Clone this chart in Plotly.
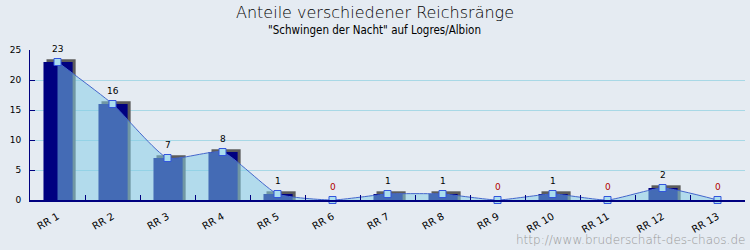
import plotly.graph_objects as go

categories = ["RR 1", "RR 2", "RR 3", "RR 4", "RR 5", "RR 6", "RR 7",
              "RR 8", "RR 9", "RR 10", "RR 11", "RR 12", "RR 13"]
values = [23, 16, 7, 8, 1, 0, 1, 1, 0, 1, 0, 2, 0]
y_ticks = [0, 5, 10, 15, 20, 25]

title = "Anteile verschiedener Reichsränge"
subtitle = '"Schwingen der Nacht" auf Logres/Albion'
watermark = "http://www.bruderschaft-des-chaos.de"

BG = "#e5ebf2"
NAVY = "#000080"
BAR_W = 0.53
BAR_OFF = -0.255

fig = go.Figure()

# shadow bars
fig.add_trace(go.Bar(
    x=categories, y=[v + 0.45 if v > 0 else 0 for v in values],
    width=BAR_W, offset=BAR_OFF + 0.055,
    marker=dict(color="#5c5c5c", line=dict(width=0)),
    hoverinfo="skip", showlegend=False,
))
# main bars
fig.add_trace(go.Bar(
    x=categories, y=values,
    width=BAR_W, offset=BAR_OFF,
    marker=dict(color=NAVY, line=dict(width=0)),
    showlegend=False,
))
# area overlay
fig.add_trace(go.Scatter(
    x=categories, y=values, mode="lines",
    line=dict(color="rgba(68,102,204,1)", width=1, shape="spline", smoothing=0.5),
    fill="tozeroy", fillcolor="rgba(130,205,230,0.52)",
    hoverinfo="skip", showlegend=False,
))
# markers
fig.add_trace(go.Scatter(
    x=categories, y=values, mode="markers",
    marker=dict(symbol="square", size=7, color="#aaddee",
                line=dict(color="#3355dd", width=1)),
    cliponaxis=False, showlegend=False,
))

for c, v in zip(categories, values):
    fig.add_annotation(
        x=c, y=v, xref="x", yref="y", text=str(v), showarrow=False,
        yshift=13, font=dict(family="DejaVu Sans", size=9,
                             color="#b00000" if v == 0 else "#000000"),
    )

fig.add_annotation(x=0.5, y=1, xref="paper", yref="paper", xanchor="center",
                   yanchor="middle", yshift=38, xshift=-13, text=title, showarrow=False,
                   font=dict(family="DejaVu Sans", size=16, color="#000000", weight=200))
fig.add_annotation(x=0.5, y=1, xref="paper", yref="paper", xanchor="center",
                   yanchor="middle", yshift=20, xshift=-13, text=subtitle, showarrow=False,
                   font=dict(family="DejaVu Sans Condensed", size=11.5, color="#000000"))
fig.add_annotation(x=1, y=0, xref="paper", yref="paper", xanchor="right",
                   yanchor="middle", yshift=-40, xshift=2, text=watermark, showarrow=False,
                   font=dict(family="DejaVu Sans", size=12, color="#999999", weight=200))

fig.update_layout(
    width=750, height=250,
    margin=dict(l=30, r=5, t=50, b=50),
    paper_bgcolor=BG, plot_bgcolor=BG,
    barmode="overlay",
    showlegend=False,
)

fig.update_xaxes(
    type="category", range=[-0.5, 12.5],
    showline=True, linecolor=NAVY, linewidth=2,
    ticks="inside", ticklen=5, tickcolor=NAVY, tickson="boundaries",
    showgrid=False, tickangle=-30,
    ticklabelstandoff=5,
    tickfont=dict(family="DejaVu Sans", size=10, color="#000000"),
    fixedrange=True,
)
fig.update_yaxes(
    range=[0, 25], tickvals=y_ticks,
    showline=True, linecolor=NAVY, linewidth=1,
    ticks="inside", ticklen=5, tickcolor=NAVY,
    showgrid=True, gridcolor="#a8d8e6", gridwidth=1,
    zeroline=False,
    ticklabelstandoff=6,
    tickfont=dict(family="DejaVu Sans", size=9, color="#000000"),
    fixedrange=True,
)

fig.write_html("out.html")
